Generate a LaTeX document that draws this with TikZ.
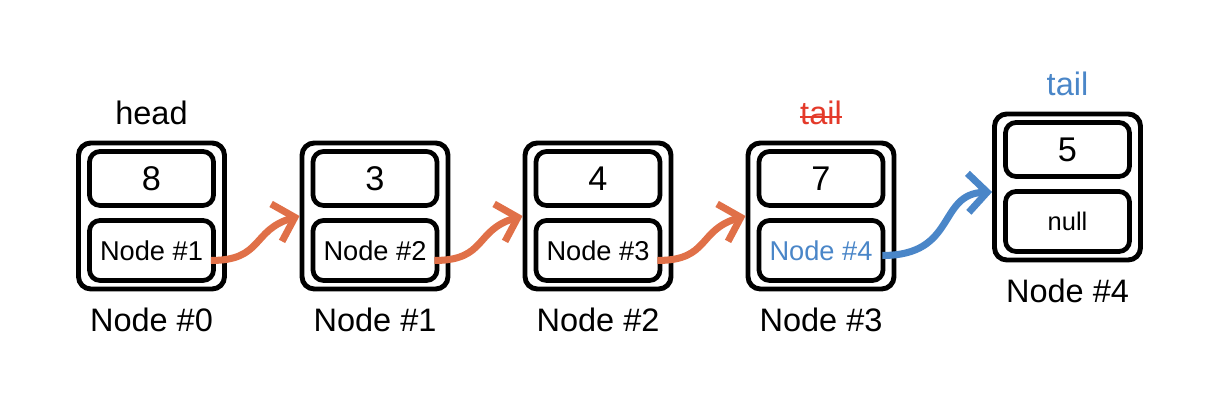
\documentclass[tikz,border=0pt]{standalone}
\usepackage{fontspec}
\setmainfont{Liberation Sans}
\usetikzlibrary{arrows.meta,positioning}
\definecolor{arrorange}{RGB}{224,112,72}
\definecolor{tailblue}{RGB}{74,134,200}
\definecolor{tailred}{RGB}{228,58,42}
\tikzset{
  llbox/.style={draw, line width=2.8pt, rounded corners=7pt, minimum width=2.92cm, minimum height=2.92cm},
  fieldbox/.style={draw, line width=2.7pt, rounded corners=6pt, minimum width=2.48cm, inner sep=0pt},
  valbox/.style={fieldbox, minimum height=1.08cm, font=\fontsize{19.5}{22}\selectfont},
  ptrbox/.style={fieldbox, minimum height=1.2cm, font=\fontsize{15.5}{18}\selectfont},
  lbl/.style={font=\fontsize{18.5}{21}\selectfont, inner sep=0pt},
  nextarrow/.style={arrorange, line width=4pt, -{Straight Barb[length=0.38cm,width=0.78cm]}}
}
\begin{document}
\begin{tikzpicture}
\useasboundingbox (0,0) rectangle (24.24,8.24);
\foreach \i/\x/\v/\p/\c in {0/3.03/8/1/black, 1/7.50/3/2/black, 2/11.96/4/3/black, 3/16.42/7/4/tailblue}{
  \node[llbox] (box\i) at (\x,3.92) {};
  \node[valbox] (val\i) at (\x,4.67) {\v};
  \node[ptrbox, text=\c] (ptr\i) at (\x,3.23) {Node \#\p};
  \node[lbl, below=0.33cm of box\i] (name\i) {Node \#\i};
}
\node[llbox] (box4) at (21.35,4.5) {};
\node[valbox] (val4) at (21.35,5.25) {5};
\node[ptrbox, font=\fontsize{14.5}{17}\selectfont] (ptr4) at (21.35,3.81) {null};
\node[lbl, below=0.33cm of box4] (name4) {Node \#4};

\node[lbl, above=0.3cm of box0] (head) {head};
\node[lbl, text=tailred, above=0.3cm of box3] (oldtail) {tail};
\draw[tailred, line width=1.3pt] ([yshift=0.16cm]oldtail.base west) -- ([yshift=0.16cm]oldtail.base east);
\node[lbl, text=tailblue, above=0.3cm of box4] (tail) {tail};

\foreach \i/\j in {0/1, 1/2, 2/3}
  \draw[nextarrow] ([xshift=-0.1cm,yshift=-0.2cm]ptr\i.east) .. controls +(1.05,0) and +(-0.96,-0.28) .. (box\j.west);
\draw[nextarrow, tailblue] ([xshift=-0.06cm,yshift=-0.1cm]ptr3.east) .. controls +(1.5,0) and +(-1.1,-0.04) .. ([yshift=-0.1cm]box4.west);
\end{tikzpicture}
\end{document}
